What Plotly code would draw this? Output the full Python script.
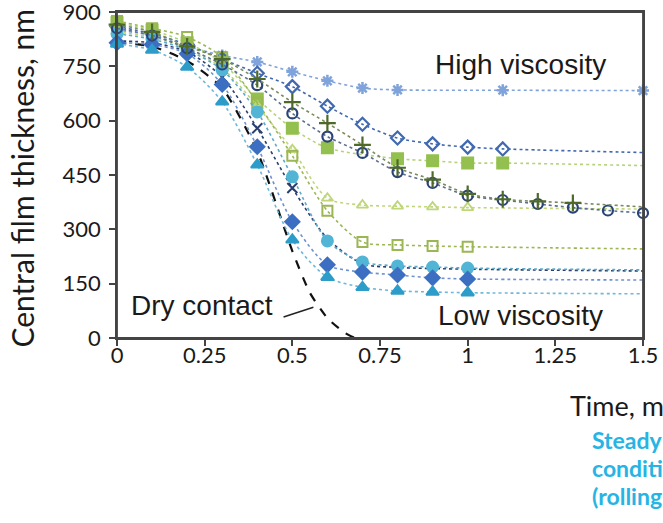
import plotly.graph_objects as go

# ---------------- data (time in ms, central film thickness in nm) ----------------
asterisk_x = [0, 0.1, 0.2, 0.3, 0.4, 0.5, 0.6, 0.7, 0.8, 1.1, 1.5]
asterisk_y = [850, 835, 805, 780, 762, 735, 710, 690, 685, 684, 683]
asterisk_steady = None

odiamond_x = [0, 0.1, 0.2, 0.3, 0.4, 0.5, 0.6, 0.7, 0.8, 0.9, 1.0, 1.1]
odiamond_y = [860, 840, 810, 770, 731, 694, 640, 590, 552, 536, 527, 522]
odiamond_steady = 512

gsquare_x = [0, 0.1, 0.2, 0.3, 0.4, 0.5, 0.6, 0.8, 0.9, 1.0, 1.1]
gsquare_y = [870, 850, 815, 760, 660, 579, 525, 495, 489, 483, 483]
gsquare_steady = 476

plus_x = [0, 0.1, 0.2, 0.3, 0.4, 0.5, 0.6, 0.7, 0.8, 0.9, 1.0, 1.1, 1.2, 1.3]
plus_y = [865, 845, 805, 770, 715, 651, 593, 533, 470, 437, 398, 383, 377, 373]
plus_steady = 362

ocircle_x = [0, 0.1, 0.2, 0.3, 0.4, 0.5, 0.6, 0.7, 0.8, 0.9, 1.0, 1.1, 1.2, 1.3, 1.4, 1.5]
ocircle_y = [855, 835, 800, 755, 698, 620, 556, 511, 458, 428, 393, 381, 370, 360, 352, 345]
ocircle_steady = None

otriangle_x = [0, 0.1, 0.2, 0.3, 0.4, 0.5, 0.6, 0.7, 0.8, 0.9, 1.0]
otriangle_y = [845, 830, 800, 745, 640, 520, 386, 367, 364, 362, 360]
otriangle_steady = 356

osquare_x = [0, 0.1, 0.2, 0.3, 0.4, 0.5, 0.6, 0.7, 0.8, 0.9, 1.0]
osquare_y = [875, 855, 831, 775, 650, 503, 351, 265, 257, 254, 252]
osquare_steady = 246

xmark_x = [0, 0.1, 0.2, 0.3, 0.4, 0.5]
xmark_y = [820, 815, 790, 720, 579, 414]
xmark_tail_x = [0.6, 0.7, 0.8, 1.0, 1.5]
xmark_tail_y = [275, 205, 195, 190, 185]

lcircle_x = [0, 0.1, 0.2, 0.3, 0.4, 0.5, 0.6, 0.7, 0.8, 0.9, 1.0]
lcircle_y = [840, 825, 795, 740, 624, 445, 268, 210, 199, 196, 193]
lcircle_steady = 188

fdiamond_x = [0, 0.1, 0.2, 0.3, 0.4, 0.5, 0.6, 0.7, 0.8, 0.9, 1.0]
fdiamond_y = [815, 810, 785, 700, 528, 321, 202, 182, 174, 166, 163]
fdiamond_steady = 160

ftriangle_x = [0, 0.1, 0.2, 0.3, 0.4, 0.5, 0.6, 0.7, 0.8, 0.9, 1.0]
ftriangle_y = [812, 795, 748, 652, 478, 271, 168, 140, 130, 127, 125]
ftriangle_steady = 122

dry_x = [0, 0.1, 0.2, 0.3, 0.4, 0.5, 0.55, 0.6, 0.65, 0.68, 0.72]
dry_y = [815, 805, 765, 690, 515, 240, 125, 55, 14, 0, 0]

x_ticks = [0, 0.25, 0.5, 0.75, 1, 1.25, 1.5]
x_ticktext = ["0", "0.25", "0.5", "0.75", "1", "1.25", "1.5"]
y_ticks = [0, 150, 300, 450, 600, 750, 900]

steady_note = ["Steady state", "conditions", "(rolling only)"]

# ---------------- figure ----------------
fig = go.Figure()


def add_series(xs, ys, steady, color, symbol, size, line_color=None, line_width=2,
               tail_x=None, tail_y=None):
    lx = list(xs)
    ly = list(ys)
    if steady is not None:
        lx = lx + [1.5]
        ly = ly + [steady]
    if tail_x is not None:
        lx = lx + list(tail_x)
        ly = ly + list(tail_y)
    fig.add_trace(go.Scatter(
        x=lx, y=ly, mode="lines",
        line=dict(color=line_color or color, width=1.6, dash="dot", shape="spline", smoothing=0.8),
        hoverinfo="skip", showlegend=False, cliponaxis=False))
    mk = dict(symbol=symbol, size=size, color=color, line=dict(color=color, width=line_width))
    fig.add_trace(go.Scatter(x=xs, y=ys, mode="markers", marker=mk, showlegend=False,
                             cliponaxis=False))


fig.add_trace(go.Scatter(x=dry_x, y=dry_y, mode="lines",
                         line=dict(color="#111111", width=2.2, dash="dash", shape="spline", smoothing=0.6),
                         showlegend=False))

add_series(asterisk_x, asterisk_y, asterisk_steady, "#7FA3DA", "asterisk-open", 10, line_width=2.5)
add_series(odiamond_x, odiamond_y, odiamond_steady, "#4169B0", "diamond-open", 10, line_width=2.2)
add_series(gsquare_x, gsquare_y, gsquare_steady, "#93C04E", "square", 11, line_color="#B5D37C")
add_series(otriangle_x, otriangle_y, otriangle_steady, "#BFD67A", "triangle-up-open", 10, line_width=1.8)
add_series(osquare_x, osquare_y, osquare_steady, "#9AB753", "square-open", 10, line_width=2)
add_series(xmark_x, xmark_y, None, "#2A3F6E", "x-thin-open", 10, line_width=2,
           tail_x=xmark_tail_x, tail_y=xmark_tail_y)
add_series(lcircle_x, lcircle_y, lcircle_steady, "#52B5D6", "circle", 11, line_color="#5FA9C7")
add_series(fdiamond_x, fdiamond_y, fdiamond_steady, "#3C6FC2", "diamond", 11, line_color="#6F92CF")
add_series(ftriangle_x, ftriangle_y, ftriangle_steady, "#2D9CC9", "triangle-up", 11, line_color="#6DB8DB")
add_series(ocircle_x, ocircle_y, ocircle_steady, "#2B4478", "circle-open", 10, line_width=2.2,
           line_color="#5B6F8F")
add_series(plus_x, plus_y, plus_steady, "#4E6A28", "cross-thin-open", 12, line_width=2.2,
           line_color="#7A8B5C")

axis_font = dict(family="Lato, Carlito, sans-serif", size=22, color="#1a1a1a")

fig.update_layout(
    width=663, height=523,
    margin=dict(l=117, r=20, t=12, b=185),
    paper_bgcolor="white", plot_bgcolor="white",
    showlegend=False,
    xaxis=dict(range=[0, 1.5], tickvals=x_ticks, ticktext=x_ticktext, ticks="outside",
               ticklen=6, tickwidth=1.5, tickcolor="#444", showline=True, linecolor="#444",
               linewidth=1.8, mirror=True, showgrid=False, zeroline=False, tickfont=axis_font,
               automargin=False, ticklabeloverflow="allow", ticklabelstandoff=-9),
    yaxis=dict(range=[0, 900], tickvals=y_ticks, ticks="outside", ticklen=6, tickwidth=1.5,
               tickcolor="#444", showline=True, linecolor="#444", linewidth=1.8, mirror=True,
               showgrid=False, zeroline=False, tickfont=axis_font, automargin=False,
               ticklabeloverflow="allow", ticklabelstandoff=4),
)

# plot frame
fig.add_shape(type="rect", xref="paper", yref="paper", x0=0, y0=0, x1=1, y1=1,
              line=dict(color="#444", width=1.8), layer="above")

ann_font = dict(family="Liberation Sans, Arial, sans-serif", size=28, color="#1a1a1a")
fig.add_annotation(x=1.152, y=754, xref="x", yref="y", text="High viscosity", showarrow=False,
                   font=ann_font)
fig.add_annotation(x=1.152, y=61, xref="x", yref="y", text="Low viscosity", showarrow=False,
                   font=ann_font)
fig.add_annotation(x=0.242, y=91, xref="x", yref="y", text="Dry contact", showarrow=False,
                   font=ann_font)
fig.add_shape(type="line", xref="x", yref="y", x0=0.475, y0=58, x1=0.56, y1=85,
              line=dict(color="#222", width=1.5))

fig.add_annotation(x=-0.18, y=0.49, xref="paper", yref="paper", text="Central film thickness, nm",
                   textangle=-90, showarrow=False, xanchor="center", yanchor="middle",
                   font=dict(family="Lato, Carlito, sans-serif", size=30, color="#1a1a1a"))
fig.add_annotation(x=0.858, y=-0.206, xref="paper", yref="paper", text="Time, ms",
                   xanchor="left", yanchor="middle", showarrow=False,
                   font=dict(family="Lato, Carlito, sans-serif", size=27, color="#1a1a1a"))
for i, line in enumerate(steady_note):
    fig.add_annotation(x=0.9, y=-0.313 - 0.086 * i, xref="paper", yref="paper",
                       text="<b>" + line + "</b>", xanchor="left", yanchor="middle",
                       align="left", showarrow=False,
                       font=dict(family="Lato, Carlito, sans-serif", size=23, color="#27B4E4"))

fig.write_html("out.html", post_script="document.body.style.margin='0';",
               config={"displayModeBar": False})
